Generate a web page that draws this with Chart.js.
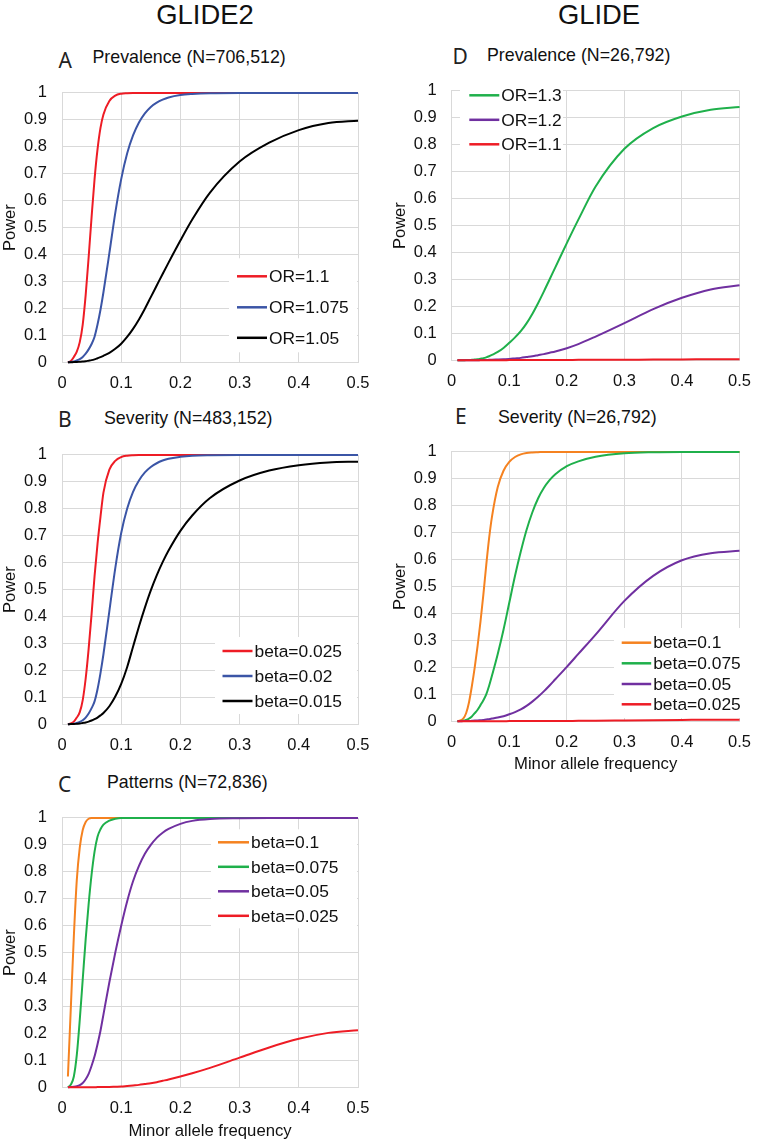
<!DOCTYPE html>
<html>
<head>
<meta charset="utf-8">
<script src="https://cdn.jsdelivr.net/npm/chart.js@4.4.0/dist/chart.umd.min.js"></script>
<style>
  body { margin:0; background:#fff; width:762px; height:1144px; position:relative; overflow:hidden;
         font-family:"Liberation Sans", Arial, sans-serif; color:#111; }
  .col-title { position:absolute; font-size:27.4px; line-height:1; transform:translate(-50%,-50%); white-space:nowrap; }
  .letter { position:absolute; font-family:"Noto Sans", "Open Sans", sans-serif; font-weight:400; font-size:21px; line-height:1; transform:translateY(-50%); color:#222; }
  .ptitle { position:absolute; font-size:17.8px; line-height:1; transform:translateY(-50%); white-space:nowrap; }
</style>
</head>
<body>
<div class="col-title" style="left:205px;top:15px">GLIDE2</div>
<div class="col-title" style="left:599px;top:15px">GLIDE</div>

<script>
// minor allele frequency grid the curves were read at
const maf = [0.01,0.015,0.02,0.025,0.03,0.035,0.04,0.045,0.05,0.055,0.06,0.065,0.07,
             0.08,0.09,0.1,0.11,0.12,0.13,0.14,0.15,0.16,0.17,0.18,
             0.2,0.22,0.25,0.3,0.35,0.4,0.45,0.5];

const xTickVals = [0, 0.1, 0.2, 0.3, 0.4, 0.5];
const xTickLabels = ['0', '0.1', '0.2', '0.3', '0.4', '0.5'];
const yTickVals = [0, 0.1, 0.2, 0.3, 0.4, 0.5, 0.6, 0.7, 0.8, 0.9, 1];
const yTickLabels = ['0', '0.1', '0.2', '0.3', '0.4', '0.5', '0.6', '0.7', '0.8', '0.9', '1'];

// A - GLIDE2 prevalence
const aLabels = ['OR=1.1', 'OR=1.075', 'OR=1.05'];
const aOR11 = [0,0.005,0.02,0.04,0.075,0.14,0.25,0.39,0.54,0.68,0.79,0.87,0.92,
               0.97,0.99,0.997,0.999,1,1,1,1,1,1,1, 1,1,1,1,1,1,1,1];
const aOR1075 = [0,0.001,0.003,0.007,0.012,0.02,0.032,0.048,0.068,0.095,0.14,0.195,0.26,
                 0.405,0.555,0.68,0.775,0.842,0.89,0.924,0.948,0.964,0.975,0.983,
                 0.992,0.996,0.999,1,1,1,1,1];
const aOR105 = [0,0,0.001,0.001,0.002,0.003,0.004,0.006,0.008,0.011,0.015,0.019,0.024,
                0.035,0.05,0.069,0.094,0.124,0.159,0.199,0.242,0.285,0.328,0.37,
                0.452,0.53,0.63,0.745,0.815,0.862,0.888,0.897];

// B - GLIDE2 severity
const bLabels = ['beta=0.025', 'beta=0.02', 'beta=0.015'];
const bBeta025 = [0,0.003,0.01,0.025,0.045,0.09,0.17,0.28,0.41,0.55,0.67,0.77,0.86,
                  0.945,0.978,0.992,0.997,0.999,1,1,1,1,1,1, 1,1,1,1,1,1,1,1];
const bBeta02 = [0,0.001,0.002,0.005,0.009,0.015,0.025,0.04,0.06,0.085,0.13,0.19,0.26,
                 0.42,0.58,0.71,0.8,0.863,0.905,0.935,0.955,0.969,0.979,0.986,
                 0.993,0.997,0.999,1,1,1,1,1];
const bBeta015 = [0,0.001,0.001,0.002,0.003,0.005,0.007,0.01,0.014,0.019,0.025,0.033,0.042,
                  0.067,0.103,0.15,0.212,0.288,0.363,0.433,0.497,0.553,0.602,0.645,
                  0.718,0.775,0.84,0.905,0.942,0.962,0.972,0.975];

// C - GLIDE2 patterns
const cLabels = ['beta=0.1', 'beta=0.075', 'beta=0.05', 'beta=0.025'];
const cBeta1 = [0.04,0.3,0.56,0.77,0.89,0.955,0.985,0.997,1,1,1,1,1,
                1,1,1,1,1,1,1,1,1,1,1, 1,1,1,1,1,1,1,1];
const cBeta075 = [0,0.01,0.04,0.12,0.25,0.4,0.55,0.68,0.79,0.875,0.93,0.958,0.975,
                  0.99,0.997,1,1,1,1,1,1,1,1,1, 1,1,1,1,1,1,1,1];
const cBeta05 = [0,0.001,0.002,0.004,0.008,0.016,0.03,0.05,0.08,0.115,0.16,0.21,0.27,
                 0.39,0.5,0.6,0.69,0.765,0.822,0.867,0.9,0.926,0.945,0.959,
                 0.978,0.989,0.996,0.999,1,1,1,1];
const cBeta025 = [0,0,0,0,0,0,0,0,0,0,0.001,0.001,0.001,
                  0.001,0.002,0.003,0.005,0.007,0.009,0.012,0.015,0.019,0.024,0.029,
                  0.04,0.052,0.072,0.11,0.148,0.18,0.202,0.212];

// D - GLIDE prevalence
const dLabels = ['OR=1.3', 'OR=1.2', 'OR=1.1'];
const dOR13 = [0,0,0,0.001,0.001,0.002,0.003,0.004,0.006,0.008,0.011,0.015,0.02,
               0.031,0.046,0.065,0.085,0.108,0.137,0.172,0.212,0.255,0.3,0.345,
               0.435,0.522,0.645,0.785,0.862,0.905,0.93,0.94];
const dOR12 = [0,0,0,0,0,0,0,0,0.001,0.001,0.001,0.002,0.002,
               0.003,0.004,0.005,0.007,0.009,0.012,0.015,0.019,0.023,0.028,0.033,
               0.045,0.06,0.088,0.138,0.19,0.232,0.263,0.279];
const dOR11 = [0,0,0,0,0,0,0,0,0,0,0,0,0,
               0,0,0.001,0.001,0.001,0.001,0.001,0.001,0.001,0.001,0.001,
               0.001,0.002,0.002,0.002,0.003,0.003,0.004,0.004];

// E - GLIDE severity
const eLabels = ['beta=0.1', 'beta=0.075', 'beta=0.05', 'beta=0.025'];
const eBeta1 = [0,0.003,0.01,0.03,0.07,0.13,0.2,0.28,0.37,0.47,0.58,0.68,0.76,
                0.87,0.93,0.963,0.981,0.991,0.996,0.998,0.999,1,1,1, 1,1,1,1,1,1,1,1];
const eBeta075 = [0,0.001,0.002,0.005,0.01,0.018,0.03,0.043,0.06,0.078,0.1,0.132,0.17,
                  0.25,0.34,0.44,0.54,0.63,0.71,0.775,0.827,0.866,0.895,0.917,
                  0.947,0.965,0.982,0.995,0.999,1,1,1];
const eBeta05 = [0,0,0.001,0.001,0.001,0.002,0.003,0.003,0.004,0.005,0.007,0.008,0.01,
                 0.014,0.019,0.026,0.034,0.044,0.057,0.073,0.091,0.111,0.133,0.156,
                 0.202,0.25,0.322,0.447,0.54,0.598,0.624,0.633];
const eBeta025 = [0,0,0,0,0,0,0,0,0,0,0,0,0,
                  0,0,0.001,0.001,0.001,0.001,0.001,0.001,0.001,0.001,0.001,
                  0.001,0.002,0.002,0.003,0.004,0.005,0.006,0.006];

const RED = '#ee1c25', BLUE = '#3b55a6', BLACK = '#000000',
      ORANGE = '#f58220', GREEN = '#1fb04b', PURPLE = '#7030a0';

const FONT = '"Liberation Sans", Arial, sans-serif';
Chart.defaults.font.family = FONT;
Chart.defaults.font.size = 16.5;
Chart.defaults.color = '#111';

const PAD_TOP = 13, PLOT_H = 281.3;

// legend drawn inside the plot, white box under it
const insideLegend = {
  id: 'insideLegend',
  beforeDatasetsDraw(chart, args, o) {
    const ctx = chart.ctx;
    ctx.save();
    ctx.fillStyle = '#fff';
    ctx.fillRect(o.box[0], o.box[1], o.box[2], o.box[3]);
    ctx.restore();
  },
  afterDatasetsDraw(chart, args, o) {
    const ctx = chart.ctx;
    ctx.save();
    ctx.font = '17.4px ' + FONT;
    ctx.textBaseline = 'middle';
    chart.data.datasets.forEach((ds, i) => {
      const y = o.rows[i];
      ctx.strokeStyle = ds.borderColor;
      ctx.lineWidth = 2.5;
      ctx.beginPath(); ctx.moveTo(o.x, y); ctx.lineTo(o.x + o.len, y); ctx.stroke();
      ctx.fillStyle = '#111';
      ctx.fillText(ds.label, o.x + o.len + 2, y + 1);
    });
    ctx.restore();
  }
};

const panels = [
  { letter: 'A', title: 'Prevalence (N=706,512)', lx: 58.5, tx: 92.5, ly: 59.5, ty: 58,
    left: 0, width: 381, plotLeft: 62, plotRight: 358, plotTop: 80.7, xTitle: false,
    labels: aLabels, values: [aOR11, aOR1075, aOR105], colors: [RED, BLUE, BLACK],
    legend: { x: 237, len: 30, rows: [276, 307, 337.5], box: [229, 258, 128, 94] } },
  { letter: 'B', title: 'Severity (N=483,152)', lx: 58, tx: 104, ly: 419, ty: 419,
    left: 0, width: 381, plotLeft: 62, plotRight: 358, plotTop: 443, xTitle: false,
    labels: bLabels, values: [bBeta025, bBeta02, bBeta015], colors: [RED, BLUE, BLACK],
    legend: { x: 222.5, len: 30, rows: [651, 676, 701], box: [215, 637, 142, 77] } },
  { letter: 'C', title: 'Patterns (N=72,836)', lx: 58, tx: 107, ly: 783.7, ty: 783,
    left: 0, width: 381, plotLeft: 62, plotRight: 358, plotTop: 805.7, xTitle: true, xtPad: 1.4,
    labels: cLabels, values: [cBeta1, cBeta075, cBeta05, cBeta025], colors: [ORANGE, GREEN, PURPLE, RED],
    legend: { x: 218, len: 31, rows: [842, 866.5, 891, 915.5], box: [211, 829, 146, 99] } },
  { letter: 'D', title: 'Prevalence (N=26,792)', lx: 452.5, tx: 487, ly: 55.6, ty: 56,
    left: 390, width: 372, plotLeft: 451.7, plotRight: 747.7, plotTop: 78.7, xTitle: false,
    labels: dLabels, values: [dOR13, dOR12, dOR11], colors: [GREEN, PURPLE, RED],
    legend: { x: 469.3, len: 30, rows: [95, 119.5, 144], box: [460, 80, 103, 74] } },
  { letter: 'E', title: 'Severity (N=26,792)', lx: 455, tx: 498, ly: 415.7, ty: 417.5,
    left: 390, width: 372, plotLeft: 451.7, plotRight: 747.7, plotTop: 440, xTitle: true, xtPad: 2.7,
    labels: eLabels, values: [eBeta1, eBeta075, eBeta05, eBeta025], colors: [ORANGE, GREEN, PURPLE, RED],
    legend: { x: 621.7, len: 29.5, rows: [642.7, 663.3, 684, 704.3], box: [614, 628, 132, 90] } }
];

function addText(cls, txt, x, y) {
  const d = document.createElement('div');
  d.className = cls;
  d.textContent = txt;
  d.style.left = x + 'px';
  d.style.top = y + 'px';
  document.body.appendChild(d);
}

function makePanel(p) {
  addText('letter', p.letter, p.lx, p.ly);
  addText('ptitle', p.title, p.tx, p.ty);

  const top = p.plotTop - PAD_TOP;
  const xH = p.xTitle ? 56 : 30;
  const h = PAD_TOP + PLOT_H + xH;
  const wrap = document.createElement('div');
  wrap.style.cssText = `position:absolute;left:${p.left}px;top:${top}px;width:${p.width}px;height:${h}px;`;
  const cv = document.createElement('canvas');
  wrap.appendChild(cv);
  document.body.appendChild(wrap);

  const yW = p.plotLeft - p.left;
  const padR = p.left + p.width - p.plotRight;
  const lg = p.legend;

  new Chart(cv, {
    type: 'line',
    data: {
      datasets: p.labels.map((lab, i) => ({
        label: lab,
        data: maf.map((x, j) => ({ x: x, y: p.values[i][j] })),
        borderColor: p.colors[i],
        borderWidth: 2,
        pointRadius: 0,
        cubicInterpolationMode: 'monotone',
        fill: false,
        clip: 4,
        order: -i
      }))
    },
    options: {
      responsive: true,
      maintainAspectRatio: false,
      animation: false,
      layout: { padding: { top: PAD_TOP, right: padR, left: 0, bottom: 0 } },
      plugins: {
        legend: { display: false },
        tooltip: { enabled: false },
        insideLegend: {
          x: lg.x - p.left, len: lg.len,
          rows: lg.rows.map(r => r - top),
          box: [lg.box[0] - p.left, lg.box[1] - top, lg.box[2], lg.box[3]]
        }
      },
      scales: {
        x: {
          type: 'linear', min: 0, max: 0.5,
          afterBuildTicks: s => { s.ticks = xTickVals.map(v => ({ value: v })); },
          afterFit: s => { s.height = xH; },
          ticks: { padding: 11, maxRotation: 0, callback: (v, i) => xTickLabels[i] },
          grid: { color: '#d9d9d9', lineWidth: 1, drawTicks: false },
          border: { color: '#d9d9d9', width: 1 },
          title: { display: p.xTitle, text: 'Minor allele frequency', font: { size: 16.7 },
                   padding: { top: 0, bottom: p.xtPad || 0 } }
        },
        y: {
          type: 'linear', min: 0, max: 1,
          afterBuildTicks: s => { s.ticks = yTickVals.map(v => ({ value: v })); },
          afterFit: s => { s.width = yW; },
          ticks: { padding: 15, callback: (v, i) => yTickLabels[i] },
          grid: { color: '#d9d9d9', lineWidth: 1, drawTicks: false },
          border: { color: '#d9d9d9', width: 1 },
          title: { display: true, text: 'Power', font: { size: 16.5 }, padding: { top: 1, bottom: 0 } }
        }
      }
    },
    plugins: [insideLegend]
  });
}

panels.forEach(makePanel);
</script>
</body>
</html>
